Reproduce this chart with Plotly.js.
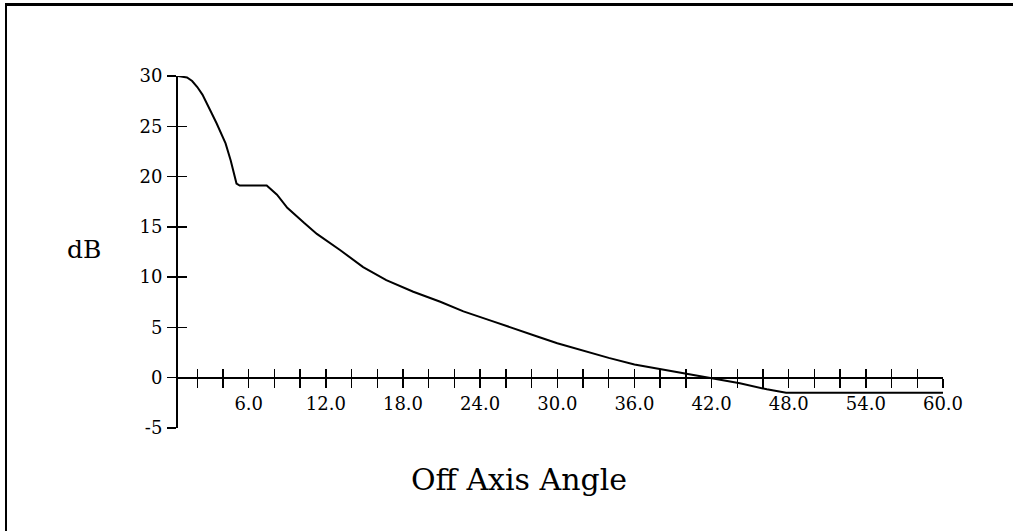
<!DOCTYPE html>
<html>
<head>
<meta charset="utf-8">
<script src="https://cdn.plot.ly/plotly-3.0.1.min.js"></script>
<style>
  html, body { margin: 0; padding: 0; background: #fff; }
  #wrap { position: relative; width: 1013px; height: 531px; overflow: hidden; }
  #chart { position: absolute; left: 0; top: 0; width: 1013px; height: 531px; }
  #frame { position: absolute; left: 5px; top: 3px; width: 1010px; height: 525px;
           border-top: 3px solid #000; border-left: 2px solid #000; border-bottom: 1px solid #999;
           pointer-events: none; }
</style>
</head>
<body>
<div id="wrap">
  <div id="chart"></div>
  <div id="frame"></div>
</div>
<script>
// Off-axis angle (degrees) and level (dB)
const angle = [0.5, 1.2, 1.6, 2.0, 2.4, 2.75, 3.1, 3.5, 3.85, 4.2, 4.6, 5.05, 5.3, 7.4, 8.2, 9.0, 10.3, 11.3, 13.1, 14.9, 16.7, 18.8, 20.9, 22.7, 25.0, 27.1, 28.5, 30.0, 32.0, 34.0, 36.0, 38.5, 40.5, 42.0, 44.2, 46.3, 47.8, 60.0];
const dB    = [30.0, 29.85, 29.5, 28.9, 28.15, 27.3, 26.35, 25.3, 24.35, 23.3, 21.6, 19.3, 19.1, 19.1, 18.2, 16.9, 15.4, 14.3, 12.7, 11.0, 9.7, 8.55, 7.55, 6.6, 5.6, 4.72, 4.08, 3.42, 2.68, 1.97, 1.32, 0.75, 0.27, 0.0, -0.56, -1.15, -1.5, -1.5];

const xTickVals = [2,4,6,8,10,12,14,16,18,20,22,24,26,28,30,32,34,36,38,40,42,44,46,48,50,52,54,56,58,60];
const xTickText = ["","","6.0","","","12.0","","","18.0","","","24.0","","","30.0","","","36.0","","","42.0","","","48.0","","","54.0","","","60.0"];
const yTickVals = [-5,0,5,10,15,20,25,30];
const yTickText = ["-5","0","5","10","15","20","25","30"];

const xRange = [0.5, 60];
const yRange = [-5, 30];
const xAxisPos = (0 - yRange[0]) / (yRange[1] - yRange[0]);

const tickFont = {family: "DejaVu Serif", size: 18, color: "#000"};

const traces = [
  {x: angle, y: dB, type: "scatter", mode: "lines",
   line: {color: "#000", width: 2}, showlegend: false, hoverinfo: "skip"},
  {x: [], y: [], xaxis: "x2", yaxis: "y2", type: "scatter", mode: "lines", showlegend: false}
];

const layout = {
  width: 1013, height: 531,
  margin: {l: 178, r: 70, t: 76, b: 103},
  paper_bgcolor: "rgba(0,0,0,0)", plot_bgcolor: "rgba(0,0,0,0)",
  showlegend: false,
  xaxis: {
    range: xRange, anchor: "free", position: xAxisPos,
    tickmode: "array", tickvals: xTickVals, ticktext: xTickText,
    ticks: "outside", ticklen: 9, tickwidth: 1.5, tickcolor: "#000",
    showline: true, linecolor: "#000", linewidth: 2,
    showgrid: false, zeroline: false, tickfont: tickFont, ticklabelstandoff: 1,
    automargin: false
  },
  xaxis2: {
    range: xRange, overlaying: "x", anchor: "free", position: xAxisPos,
    tickmode: "array", tickvals: xTickVals,
    ticks: "inside", ticklen: 9, tickwidth: 1.5, tickcolor: "#000",
    showticklabels: false, showline: false, showgrid: false, zeroline: false,
    automargin: false
  },
  yaxis: {
    range: yRange, anchor: "x",
    tickmode: "array", tickvals: yTickVals, ticktext: yTickText,
    ticks: "outside", ticklen: 9, tickwidth: 1.5, tickcolor: "#000",
    showline: true, linecolor: "#000", linewidth: 2,
    showgrid: false, zeroline: false, tickfont: tickFont, ticklabelstandoff: 1,
    automargin: false
  },
  yaxis2: {
    range: yRange, overlaying: "y", anchor: "x2", side: "left",
    tickmode: "array", tickvals: yTickVals,
    ticks: "inside", ticklen: 9, tickwidth: 1.5, tickcolor: "#000",
    showticklabels: false, showline: false, showgrid: false, zeroline: false,
    automargin: false
  },
  annotations: [
    {text: "dB", xref: "paper", yref: "paper", x: -0.1235, y: 0.5085,
     xanchor: "center", yanchor: "middle", showarrow: false,
     font: {family: "DejaVu Serif", size: 25, color: "#000"}},
    {text: "Off Axis Angle", xref: "paper", yref: "paper", x: 0.4458, y: -0.145,
     xanchor: "center", yanchor: "middle", showarrow: false,
     font: {family: "DejaVu Serif", size: 30, color: "#000"}}
  ]
};

Plotly.newPlot("chart", traces, layout, {displayModeBar: false, staticPlot: true});
</script>
</body>
</html>
